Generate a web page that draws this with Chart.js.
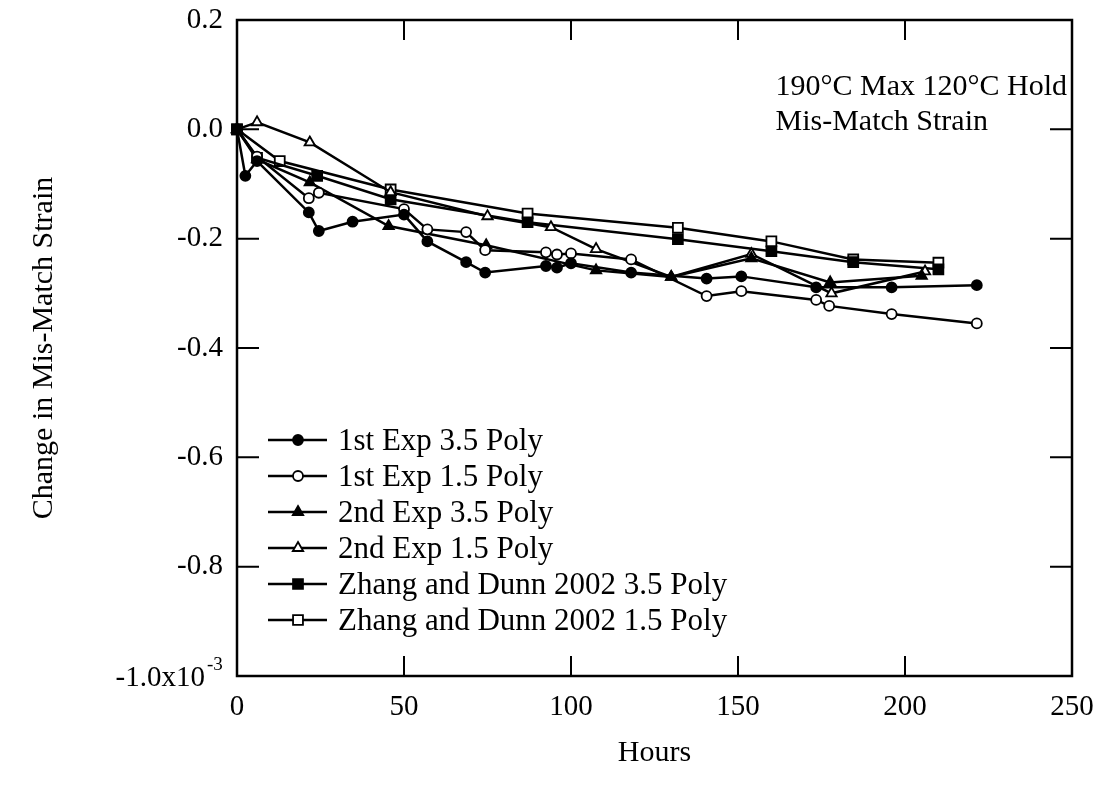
<!DOCTYPE html>
<html>
<head>
<meta charset="utf-8">
<script src="https://cdn.jsdelivr.net/npm/chart.js@4.4.1/dist/chart.umd.min.js"></script>
<style>
  html, body { margin: 0; padding: 0; background: #fff; }
</style>
</head>
<body>
<canvas id="strainChart" width="1108" height="793"></canvas>
<script>
// values (hours, change in mis-match strain x10^-3)
const exp1Poly35Hours = [0, 2.5, 6, 21.5, 24.5, 34.6, 50, 57, 68.6, 74.3, 92.5, 95.8, 100, 118, 140.6, 151, 173.4, 196, 221.5];
const exp1Poly35Strain = [0, -0.085, -0.058, -0.152, -0.186, -0.169, -0.156, -0.205, -0.243, -0.262, -0.25, -0.253, -0.245, -0.262, -0.273, -0.269, -0.289, -0.289, -0.285];

const exp1Poly15Hours = [0, 6, 21.5, 24.5, 50, 57, 68.6, 74.3, 92.5, 95.8, 100, 118, 140.6, 151, 173.4, 177.3, 196, 221.5];
const exp1Poly15Strain = [0, -0.05, -0.126, -0.116, -0.146, -0.183, -0.188, -0.221, -0.225, -0.229, -0.227, -0.238, -0.305, -0.296, -0.312, -0.323, -0.338, -0.355];

const exp2Poly35Hours = [0, 6, 21.8, 45.4, 74.6, 107.5, 130, 154, 177.6, 205];
const exp2Poly35Strain = [0, -0.055, -0.097, -0.177, -0.212, -0.258, -0.27, -0.236, -0.28, -0.268];

const exp2Poly15Hours = [0, 6, 21.8, 46, 75, 94, 107.5, 130, 154, 178, 206];
const exp2Poly15Strain = [0, 0.013, -0.024, -0.115, -0.159, -0.179, -0.219, -0.27, -0.228, -0.3, -0.26];

const zhang35Hours = [0, 6, 24, 46, 87, 132, 160, 184.5, 210];
const zhang35Strain = [0, -0.052, -0.085, -0.128, -0.17, -0.201, -0.223, -0.243, -0.256];

const zhang15Hours = [0, 12.8, 46, 87, 132, 160, 184.5, 210];
const zhang15Strain = [0, -0.058, -0.11, -0.154, -0.18, -0.205, -0.238, -0.244];

const seriesNames = [
  '1st Exp 3.5 Poly',
  '1st Exp 1.5 Poly',
  '2nd Exp 3.5 Poly',
  '2nd Exp 1.5 Poly',
  'Zhang and Dunn 2002 3.5 Poly',
  'Zhang and Dunn 2002 1.5 Poly'
];
const xTicks = [0, 50, 100, 150, 200, 250];
const yTicks = [0.2, 0.0, -0.2, -0.4, -0.6, -0.8, -1.0];
const noteLines = ['190°C Max 120°C Hold', 'Mis-Match Strain'];

const FONT = "'Liberation Serif', 'Times New Roman', serif";

function toPoints(xs, ys) {
  return xs.map((x, i) => ({ x: x, y: ys[i] }));
}

function makeSet(label, xs, ys, style, filled, radius) {
  return {
    label: label,
    data: toPoints(xs, ys),
    showLine: true,
    borderColor: '#000',
    borderWidth: 2.5,
    pointStyle: style,
    pointRadius: radius,
    pointBorderWidth: 1.8,
    pointBorderColor: '#000',
    pointBackgroundColor: filled ? '#000' : '#fff',
    clip: 12
  };
}

function drawMarker(ctx, style, r, x, y, filled) {
  ctx.save();
  ctx.beginPath();
  if (style === 'circle') {
    ctx.arc(x, y, r, 0, Math.PI * 2);
  } else if (style === 'rect') {
    const s = r * Math.SQRT1_2;
    ctx.rect(x - s, y - s, 2 * s, 2 * s);
  } else {
    const h = r * 1.5, side = h / Math.sqrt(3) * 2;
    ctx.moveTo(x, y - r);
    ctx.lineTo(x + side / 2, y + h - r);
    ctx.lineTo(x - side / 2, y + h - r);
    ctx.closePath();
  }
  ctx.fillStyle = filled ? '#000' : '#fff';
  ctx.fill();
  ctx.lineWidth = 1.8;
  ctx.strokeStyle = '#000';
  ctx.stroke();
  ctx.restore();
}

const framePlugin = {
  id: 'framePlugin',
  afterDraw(chart) {
    const ctx = chart.ctx;
    const a = chart.chartArea;
    const xs = chart.scales.x, ys = chart.scales.y;
    ctx.save();
    ctx.strokeStyle = '#000';
    ctx.lineWidth = 2.5;
    ctx.strokeRect(a.left, a.top, a.right - a.left, a.bottom - a.top);

    // inward ticks on all four sides
    ctx.lineWidth = 2;
    ctx.beginPath();
    xTicks.slice(1, -1).forEach(v => {
      const px = xs.getPixelForValue(v);
      ctx.moveTo(px, a.bottom); ctx.lineTo(px, a.bottom - 20);
      ctx.moveTo(px, a.top); ctx.lineTo(px, a.top + 20);
    });
    yTicks.slice(1, -1).forEach(v => {
      const py = ys.getPixelForValue(v);
      ctx.moveTo(a.left, py); ctx.lineTo(a.left + 22, py);
      ctx.moveTo(a.right, py); ctx.lineTo(a.right - 22, py);
    });
    ctx.stroke();

    // bottom y label with exponent
    const py = ys.getPixelForValue(-1.0);
    ctx.fillStyle = '#000';
    ctx.textBaseline = 'middle';
    ctx.textAlign = 'right';
    ctx.font = '29px ' + FONT;
    ctx.fillText('-1.0x10', a.left - 32, py + 2);
    ctx.textAlign = 'left';
    ctx.font = '19px ' + FONT;
    ctx.fillText('-3', a.left - 30, py - 11);

    // annotation
    ctx.font = '30px ' + FONT;
    ctx.textBaseline = 'alphabetic';
    const noteLeft = a.right - 5 - ctx.measureText(noteLines[0]).width;
    ctx.fillText(noteLines[0], noteLeft, a.top + 75);
    ctx.fillText(noteLines[1], noteLeft, a.top + 110);

    // legend
    const ds = chart.data.datasets;
    ctx.font = '31px ' + FONT;
    ctx.textBaseline = 'middle';
    ds.forEach((d, i) => {
      const ly = 440 + i * 36;
      ctx.lineWidth = 2.5;
      ctx.beginPath();
      ctx.moveTo(268, ly); ctx.lineTo(327, ly);
      ctx.stroke();
      drawMarker(ctx, d.pointStyle, d.pointStyle === 'circle' ? 5 : d.pointStyle === 'rect' ? 7 : 6,
        298, ly, d.pointBackgroundColor === '#000');
      ctx.fillText(d.label, 338, ly + 2);
    });
    ctx.restore();
  }
};

new Chart(document.getElementById('strainChart'), {
  type: 'scatter',
  data: {
    datasets: [
      makeSet(seriesNames[0], exp1Poly35Hours, exp1Poly35Strain, 'circle', true, 5),
      makeSet(seriesNames[1], exp1Poly15Hours, exp1Poly15Strain, 'circle', false, 5),
      makeSet(seriesNames[2], exp2Poly35Hours, exp2Poly35Strain, 'triangle', true, 6),
      makeSet(seriesNames[3], exp2Poly15Hours, exp2Poly15Strain, 'triangle', false, 6),
      makeSet(seriesNames[4], zhang35Hours, zhang35Strain, 'rect', true, 7),
      makeSet(seriesNames[5], zhang15Hours, zhang15Strain, 'rect', false, 7)
    ]
  },
  options: {
    responsive: false,
    animation: false,
    devicePixelRatio: 1,
    layout: { padding: { left: 22, top: 20, right: 36, bottom: 0 } },
    plugins: {
      legend: { display: false },
      tooltip: { enabled: false }
    },
    scales: {
      x: {
        type: 'linear',
        min: 0,
        max: 250,
        afterBuildTicks: s => { s.ticks = xTicks.map(v => ({ value: v })); },
        grid: { display: false, drawTicks: false },
        border: { display: false },
        ticks: {
          color: '#000',
          padding: 14,
          font: { family: FONT, size: 29 },
          maxRotation: 0
        },
        title: {
          display: true,
          text: 'Hours',
          color: '#000',
          font: { family: FONT, size: 30 },
          padding: { top: 0, bottom: 22 }
        },
        afterFit: s => { s.height = 117; s.paddingLeft = 0; s.paddingRight = 0; }
      },
      y: {
        type: 'linear',
        min: -1.0,
        max: 0.2,
        afterBuildTicks: s => { s.ticks = yTicks.map(v => ({ value: v })); },
        grid: { display: false, drawTicks: false },
        border: { display: false },
        ticks: {
          color: '#000',
          padding: 14,
          font: { family: FONT, size: 29 },
          callback: v => (Math.abs(v + 1) < 1e-9 ? '' : (Math.round(v * 10) / 10).toFixed(1))
        },
        title: {
          display: true,
          text: 'Change in Mis-Match Strain',
          color: '#000',
          font: { family: FONT, size: 30 },
          padding: { top: 4, bottom: 4 }
        },
        afterFit: s => { s.width = 215; s.paddingTop = 0; s.paddingBottom = 0; }
      }
    }
  },
  plugins: [framePlugin]
});
</script>
</body>
</html>
